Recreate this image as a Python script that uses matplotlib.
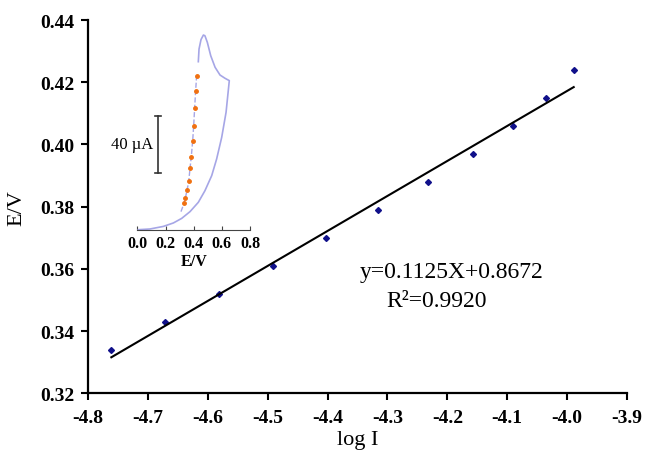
import matplotlib.pyplot as plt
import numpy as np

plt.rcParams['font.family'] = ['Liberation Serif', 'DejaVu Serif']

# main Tafel data (log I vs E)
log_i = [-4.761, -4.672, -4.582, -4.491, -4.402, -4.315, -4.232, -4.157, -4.091, -4.035, -3.989]
e_v = [0.334, 0.343, 0.352, 0.361, 0.370, 0.379, 0.388, 0.397, 0.406, 0.415, 0.424]
slope, intercept = 0.1125, 0.8672

# inset voltammogram (E/V, current in uA)
cv_e = [0.007, 0.090, 0.185, 0.256, 0.315, 0.374, 0.433, 0.480, 0.528, 0.563, 0.599, 0.630, 0.653,
        0.623, 0.587, 0.552, 0.521, 0.497, 0.480, 0.469, 0.452, 0.438, 0.433]
cv_i = [0.0, 0.5, 2.3, 4.7, 7.9, 12.6, 19.1, 27.2, 37.7, 49.3, 64.4, 81.9, 104.0,
        105.6, 107.9, 113.3, 121.4, 130.7, 135.3, 135.8, 132.6, 126.0, 117.2]
fit_e = [0.310, 0.331, 0.341, 0.353, 0.365, 0.374, 0.383, 0.393, 0.400, 0.407, 0.414, 0.421, 0.426]
fit_i = [12.6, 18.4, 22.1, 27.7, 33.7, 42.8, 50.9, 62.1, 72.6, 84.9, 97.0, 107.4, 108.6]
dot_e = fit_e[1:-1]
dot_i = fit_i[1:-1]

fig = plt.figure(figsize=(6.46, 4.52), dpi=100)
ax = fig.add_axes([0.1362, 0.1276, 0.8344, 0.8259])

ax.plot(log_i, e_v, linestyle='none', marker='D', markersize=3.0, color='#10108a')
xs = np.array([log_i[0], log_i[-1]])
ax.plot(xs, slope * xs + intercept, color='black', linewidth=1.5)

ax.set_xlim(-4.8, -3.9)
ax.set_ylim(0.32, 0.44)
ax.set_xticks(np.arange(-4.8, -3.85, 0.1))
ax.set_xticklabels(['-4.8', '-4.7', '-4.6', '-4.5', '-4.4', '-4.3', '-4.2', '-4.1', '-4.0', '-3.9'])
ax.set_yticks(np.arange(0.32, 0.4401, 0.02))
ax.set_yticklabels(['0.32', '0.34', '0.36', '0.38', '0.40', '0.42', '0.44'])
for lab in ax.get_xticklabels() + ax.get_yticklabels():
    lab.set_fontweight('bold')
    lab.set_fontsize(14)
ax.tick_params(direction='out', length=5, width=1.5)
ax.tick_params(axis='x', pad=6)
ax.tick_params(axis='y', pad=5)
ax.spines['top'].set_visible(False)
ax.spines['right'].set_visible(False)
ax.spines['left'].set_linewidth(1.6)
ax.spines['bottom'].set_linewidth(1.6)
ax.set_xlabel('log I', fontsize=16, labelpad=3)
ax.set_ylabel('E/V', fontsize=16, labelpad=10)

ax.text(-4.347, 0.3593, 'y=0.1125X+0.8672', fontsize=17, ha='left', va='center')
ax.text(-4.302, 0.3498, 'R\u00b2=0.9920', fontsize=17, ha='left', va='center')

# inset
ins = fig.add_axes([0.2126, 0.4896, 0.1744, 0.444])
ins.plot(cv_e, cv_i, color='#a6a6e6', linewidth=1.2)
ins.plot(fit_e, fit_i, color='#a6a6e6', linewidth=1.0, linestyle='--')
ins.plot(dot_e, dot_i, linestyle='none', marker='o', markersize=2.5, color='#f07010')
ins.set_xlim(0, 0.8)
ins.set_ylim(0, 140)
ins.patch.set_alpha(0)
for s in ['top', 'right', 'left']:
    ins.spines[s].set_visible(False)
ins.spines['bottom'].set_color('#444444')
ins.set_yticks([])
ins.set_xticks([0.0, 0.2, 0.4, 0.6, 0.8])
ins.set_xticklabels(['0.0', '0.2', '0.4', '0.6', '0.8'])
for lab in ins.get_xticklabels():
    lab.set_fontweight('bold')
    lab.set_fontsize(11.5)
ins.tick_params(axis='x', direction='in', length=3, pad=4, color='#444444')
ins.set_xlabel('E/V', fontsize=11.5, fontweight='bold', labelpad=1)

# scale bar 40 uA
ins.plot([0.144, 0.144], [39.5, 79.5], color='#333333', linewidth=1.2)
ins.plot([0.122, 0.166], [39.5, 39.5], color='#333333', linewidth=1.2)
ins.plot([0.122, 0.166], [79.5, 79.5], color='#333333', linewidth=1.2)
ins.text(0.115, 59.5, '40 \u00b5A', fontsize=12, ha='right', va='center')

fig.savefig('out.png', dpi=100)
